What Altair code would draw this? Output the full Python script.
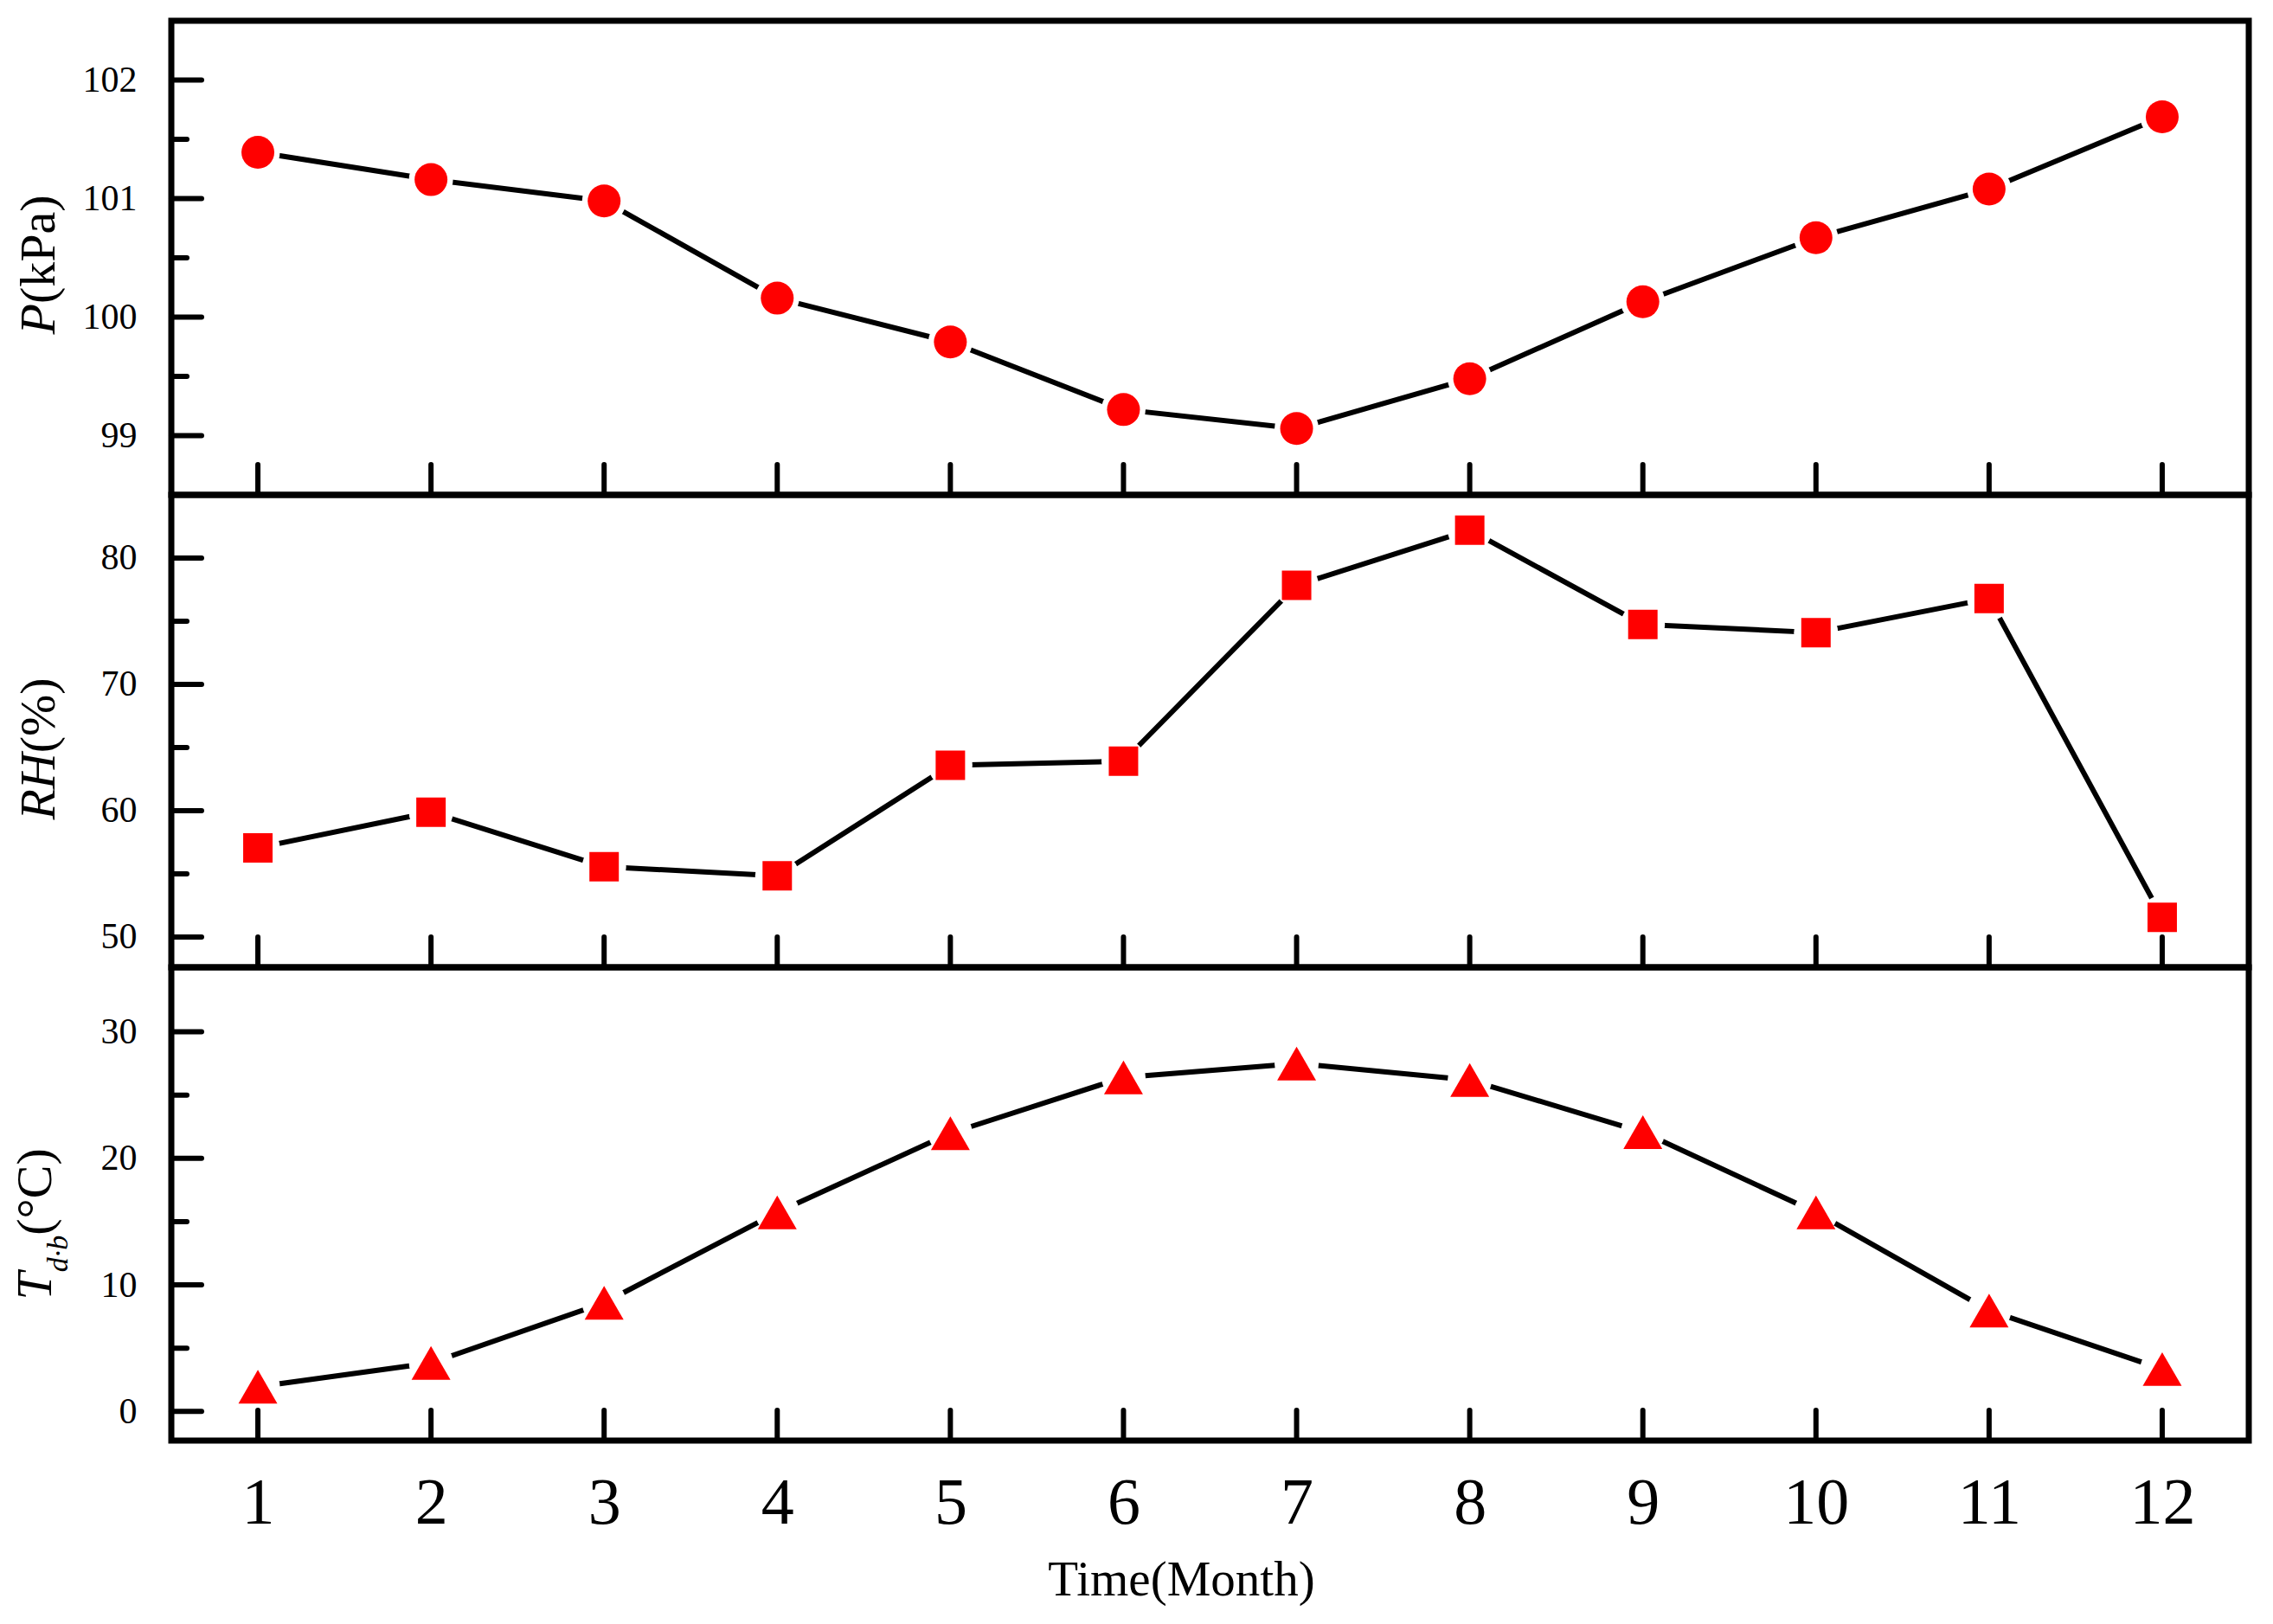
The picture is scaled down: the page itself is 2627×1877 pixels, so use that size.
import altair as alt
import pandas as pd

FONT = "Liberation Serif"

months = list(range(1, 13))
pressure = [101.39, 101.16, 100.98, 100.16, 99.79, 99.22, 99.06, 99.48, 100.13, 100.67, 101.08, 101.69]
humidity = [57.06, 59.88, 55.56, 54.85, 63.59, 63.92, 77.84, 82.21, 74.74, 74.10, 76.79, 51.55]
temperature = [1.96, 3.83, 8.59, 15.73, 21.99, 26.40, 27.50, 26.19, 22.07, 15.73, 7.98, 3.35]

p_major = [99, 100, 101, 102]
p_minor = [99.5, 100.5, 101.5]
rh_major = [50, 60, 70, 80]
rh_minor = [55, 65, 75]
t_major = [0, 10, 20, 30]
t_minor = [5, 15, 25]

x_title = "Time(Month)"
# (text, italic, font size, start y, baseline x)
p_title = [("P", True, 58, 362.5, -135.5), ("(kPa)", False, 58, 327.1, -135.5)]
rh_title = [("RH", True, 58, 375.6, -135.5), ("(%)", False, 58, 298.3, -135.5)]
t_title = [("T", True, 58, 384.5, -139.5), ("d·b", True, 34, 352.3, -120), ("(°C)", False, 58, 309.8, -139.5)]

W = 2401


def panel(values, major, minor, domain, height, shape, size, title_parts, bottom):
    df = pd.DataFrame({"month": months, "value": values})
    xscale = alt.Scale(domain=[0.5, 12.5], nice=False, zero=False)
    if bottom:
        xaxis = alt.Axis(values=months, ticks=False, domain=False, grid=False,
                         labelFontSize=76, labelFont=FONT, labelColor="black",
                         labelPadding=35, labelAngle=0, format="d",
                         title=x_title, titleFont=FONT, titleFontSize=57,
                         titleFontWeight="normal", titleColor="black",
                         titleX=1167, titleY=178, titleAlign="center",
                         titleBaseline="alphabetic")
    else:
        xaxis = None
    x = alt.X("month:Q", scale=xscale, axis=xaxis)
    yscale = alt.Scale(domain=domain, nice=False, zero=False)
    yaxis = alt.Axis(values=major, ticks=False, domain=False, grid=False,
                     labelFontSize=42, labelFont=FONT, labelColor="black",
                     labelPadding=40, title=None)
    y = alt.Y("value:Q", scale=yscale, axis=yaxis)

    base = alt.Chart(df)
    line = base.mark_line(color="black", strokeWidth=6, strokeCap="round",
                          strokeJoin="round").encode(x=x, y=y)
    halo = base.mark_point(shape="circle", filled=True, color="white",
                           opacity=1, size=2600).encode(x=x, y=y)
    pts = base.mark_point(shape=shape, filled=True, color="#ff0000",
                          opacity=1, size=size).encode(x=x, y=y)
    xticks = alt.Chart(pd.DataFrame({"month": months})).mark_rule(
        color="black", strokeWidth=6, strokeCap="round").encode(
        x=x, y=alt.value(height), y2=alt.value(height - 35))
    ymaj = alt.Chart(pd.DataFrame({"value": major})).mark_rule(
        color="black", strokeWidth=6, strokeCap="round").encode(
        y=y, x=alt.value(0), x2=alt.value(35))
    ymin = alt.Chart(pd.DataFrame({"value": minor})).mark_rule(
        color="black", strokeWidth=6, strokeCap="round").encode(
        y=y, x=alt.value(0), x2=alt.value(18))
    titles = []
    for txt, ital, fs, ypos, xpos in title_parts:
        titles.append(
            alt.Chart(pd.DataFrame({"t": [txt]})).mark_text(
                align="left", baseline="alphabetic", angle=270, font=FONT,
                fontSize=fs, fontStyle="italic" if ital else "normal",
                color="black").encode(text="t:N", x=alt.value(xpos), y=alt.value(ypos))
        )
    return alt.layer(line, halo, pts, xticks, ymaj, ymin, *titles).properties(
        width=W, height=height)


p1 = panel(pressure, p_major, p_minor, [98.5, 102.5], 548, "circle", 1444, p_title, False)
p2 = panel(humidity, rh_major, rh_minor, [47.6, 85], 546, "square", 1156, rh_title, False)
p3 = panel(temperature, t_major, t_minor, [-2.3, 35.1], 547, "triangle-up", 2025, t_title, True)

chart = alt.vconcat(p1, p2, p3, spacing=0, bounds="flush").resolve_scale(
    y="independent").configure_view(
    stroke="black", strokeWidth=7).properties(
    padding={"left": 0, "top": 12, "right": 5, "bottom": 5},
    background="white")

chart.save("out.html", embed_options={"renderer": "svg", "actions": False})
